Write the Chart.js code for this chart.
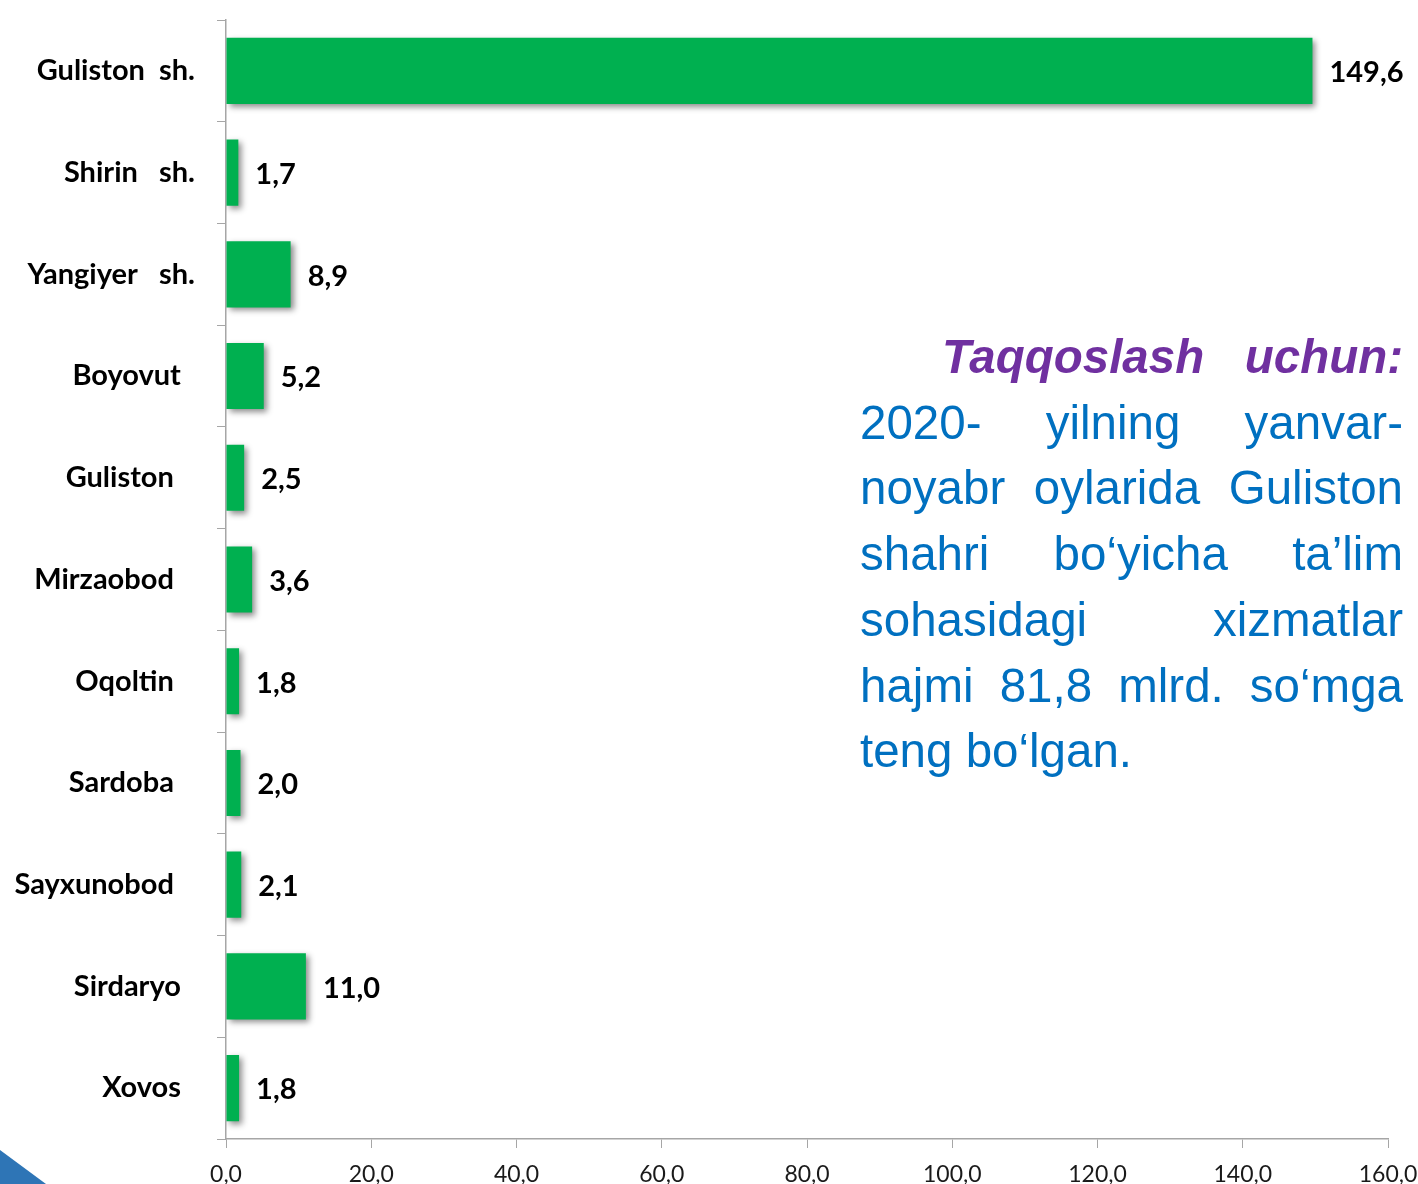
<!DOCTYPE html>
<html>
<head>
<meta charset="utf-8">
<script src="https://cdn.jsdelivr.net/npm/chart.js@4.4.1/dist/chart.umd.min.js"></script>
<style>
  html, body { margin: 0; padding: 0; background: #ffffff; }
  #wrap { position: relative; width: 1418px; height: 1184px; overflow: hidden; }
  #c { position: absolute; left: 0; top: 0; }
  #note { position: absolute; left: 860px; top: 324px; width: 543px;
          font-family: "Liberation Sans", Arial, sans-serif; font-size: 47.5px; line-height: 65.7px; color: #0070C0; }
  #note .ln { text-align: justify; text-align-last: justify; white-space: nowrap; }
  #note .last { text-align: left; text-align-last: left; }
  #note .title { color: #7030A0; font-weight: bold; font-style: italic; padding-left: 82px; }
  #tri { position: absolute; left: 0; top: 1150px; width: 46px; height: 34px; background: #2E75B6;
         clip-path: polygon(0 0, 100% 100%, 0 100%); }
</style>
</head>
<body>
<div id="wrap">
  <canvas id="c" width="1418" height="1184"></canvas>
  <div id="note">
    <div class="ln title">Taqqoslash uchun:</div>
    <div class="ln">2020- yilning yanvar-</div>
    <div class="ln">noyabr oylarida Guliston</div>
    <div class="ln">shahri bo‘yicha ta’lim</div>
    <div class="ln">sohasidagi xizmatlar</div>
    <div class="ln">hajmi 81,8 mlrd. so‘mga</div>
    <div class="ln last">teng bo‘lgan.</div>
  </div>
  <div id="tri"></div>
</div>
<script>
const categories = ["Guliston  sh.", "Shirin   sh.", "Yangiyer   sh.", "Boyovut  ", "Guliston   ", "Mirzaobod   ", "Oqoltin   ", "Sardoba   ", "Sayxunobod   ", "Sirdaryo  ", "Xovos  "];
const values = [149.6, 1.7, 8.9, 5.2, 2.5, 3.6, 1.8, 2.0, 2.1, 11.0, 1.8];
const xMin = 0, xMax = 160, xStep = 20;

const fmt = v => Number(v).toFixed(1).replace('.', ',');

const shadowPlugin = {
  id: 'barShadow',
  beforeDatasetDraw(chart) {
    const ctx = chart.ctx;
    ctx.save();
    ctx.shadowColor = 'rgba(0,0,0,0.45)';
    ctx.shadowBlur = 6;
    ctx.shadowOffsetX = 3;
    ctx.shadowOffsetY = 3;
  },
  afterDatasetDraw(chart) { chart.ctx.restore(); }
};

const labelPlugin = {
  id: 'valueLabels',
  afterDatasetsDraw(chart) {
    const ctx = chart.ctx;
    const meta = chart.getDatasetMeta(0);
    ctx.save();
    ctx.font = 'bold 29px Lato, "Open Sans", sans-serif';
    ctx.fillStyle = '#000000';
    ctx.textAlign = 'left';
    ctx.textBaseline = 'middle';
    meta.data.forEach((bar, i) => {
      ctx.fillText(fmt(values[i]), bar.x + 17, bar.y + 2);
    });
    ctx.restore();
  }
};

function zeroPad(scale) {
  scale.paddingTop = 0; scale.paddingBottom = 0;
  scale.paddingLeft = 0; scale.paddingRight = 0;
}

new Chart(document.getElementById('c'), {
  type: 'bar',
  data: {
    labels: categories,
    datasets: [{
      data: values,
      backgroundColor: '#00B050',
      borderWidth: 0,
      categoryPercentage: 1.0,
      barPercentage: 0.65
    }]
  },
  options: {
    indexAxis: 'y',
    responsive: false,
    animation: false,
    devicePixelRatio: 1,
    layout: { padding: { top: 20, right: 30, left: 0, bottom: 0 } },
    plugins: { legend: { display: false }, tooltip: { enabled: false } },
    scales: {
      x: {
        min: xMin, max: xMax,
        ticks: {
          stepSize: xStep,
          callback: v => fmt(v),
          color: '#1a1a1a',
          font: { family: 'Lato, "Open Sans", sans-serif', size: 23 },
          padding: 13,
          maxRotation: 0
        },
        grid: { drawOnChartArea: false, drawTicks: true, tickLength: 9, color: '#A6A6A6' },
        border: { color: '#A6A6A6', width: 1.5 },
        afterFit(scale) { scale.height = 45; zeroPad(scale); }
      },
      y: {
        ticks: {
          color: '#000000',
          font: { family: 'Lato, "Open Sans", sans-serif', size: 29, weight: 'bold' },
          padding: 22,
          autoSkip: false
        },
        grid: { offset: true, drawOnChartArea: false, drawTicks: true, tickLength: 9, color: '#A6A6A6' },
        border: { color: '#A6A6A6', width: 1.5 },
        afterFit(scale) { scale.width = 226; zeroPad(scale); }
      }
    }
  },
  plugins: [shadowPlugin, labelPlugin]
});
</script>
</body>
</html>
